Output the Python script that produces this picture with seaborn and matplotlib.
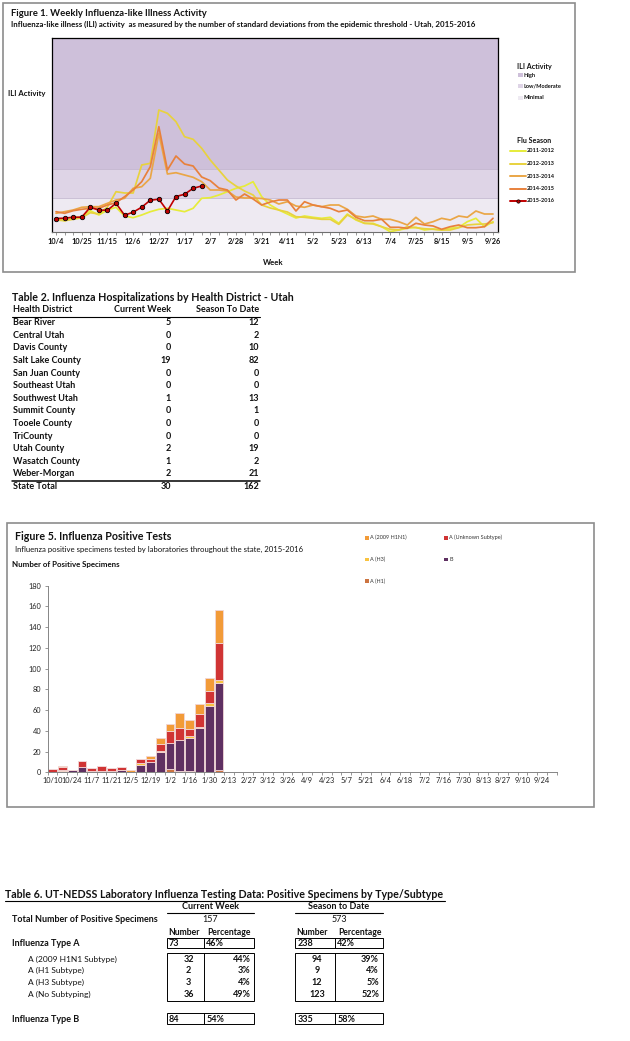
import numpy as np
import pandas as pd
import matplotlib
matplotlib.use('Agg')
import matplotlib.pyplot as plt
from matplotlib.patches import Rectangle
from matplotlib.lines import Line2D
import seaborn as sns


# ==============================
# CONFIGURATION
# ==============================
W, H = 630, 1041
TXT = '#111111'
GRID_GRAY = '#858585'

# ==============================
# DATA - FIGURE 1 (ILI activity, relative units)
# ==============================
ILI_TICK_LABELS = ["10/4", "10/25", "11/15", "12/6", "12/27", "1/17", "2/7", "2/28", "3/21",
                   "4/11", "5/2", "5/23", "6/13", "7/4", "7/25", "8/15", "9/5", "9/26"]

ili_2011_2012 = [1.37, 1.13, 1.37, 1.53, 2.13, 1.70, 2.20, 2.47, 1.60, 1.43, 1.70, 2.03, 2.27,
                 2.37, 2.20, 2.03, 2.37, 3.37, 3.43, 3.70, 4.03, 4.37, 4.60, 5.03, 3.53, 2.70,
                 2.20, 1.80, 1.40, 1.60, 1.47, 1.37, 1.47, 0.87, 1.80, 1.20, 0.87, 0.87, 0.53,
                 0.03, 0.20, 0.37, 0.47, 0.20, 0.30, 0.20, 0.37, 0.47, 1.03, 1.37, 0.53, 1.03]
ili_2012_2013 = [1.20, 1.13, 1.27, 1.43, 1.93, 1.80, 2.50, 4.03, 3.90, 3.90, 6.70, 6.87, 12.20,
                 11.87, 11.03, 9.53, 9.27, 8.37, 7.20, 6.20, 5.20, 4.60, 4.10, 3.70, 2.70, 2.40,
                 2.20, 2.00, 1.53, 1.47, 1.37, 1.27, 1.27, 0.77, 1.70, 1.27, 0.87, 0.80, 0.53,
                 0.27, 0.20, 0.53, 0.43, 0.33, 0.27, 0.20, 0.20, 0.43, 0.70, 0.77, 0.80, 0.93]
ili_2013_2014 = [1.87, 2.03, 2.20, 2.47, 2.53, 2.53, 2.87, 3.20, 3.37, 4.37, 4.53, 5.37, 9.87,
                 5.80, 5.93, 5.70, 5.47, 5.03, 4.20, 4.20, 4.10, 3.50, 3.40, 3.40, 3.35, 3.20,
                 2.80, 3.03, 2.60, 2.47, 2.70, 2.53, 2.70, 2.70, 2.27, 1.60, 1.47, 1.60, 1.27,
                 1.27, 1.03, 0.70, 1.47, 0.80, 1.03, 1.37, 1.20, 1.60, 1.47, 2.10, 1.80, 1.80]
ili_2014_2015 = [2.03, 1.87, 2.13, 2.27, 2.37, 2.37, 2.70, 2.93, 3.53, 4.20, 5.03, 6.53, 10.53,
                 6.20, 7.60, 6.80, 6.60, 5.50, 5.13, 4.40, 4.20, 3.20, 3.80, 3.30, 2.70, 3.00,
                 3.20, 3.20, 2.10, 3.03, 2.70, 2.53, 2.37, 2.03, 2.20, 1.47, 1.13, 1.13, 1.27,
                 0.47, 0.47, 0.37, 0.87, 0.70, 0.60, 0.27, 0.53, 0.70, 0.43, 0.43, 0.53, 1.37]
ili_2015_2016 = [1.35, 1.38, 1.48, 1.48, 2.48, 2.18, 2.18, 2.87, 1.68, 1.98, 2.48, 3.18, 3.28,
                 2.10, 3.55, 3.77, 4.37, 4.60]

SEASONS = ["2011-2012", "2012-2013", "2013-2014", "2014-2015", "2015-2016"]
SEASON_COLORS = ["#E6EC3A", "#E8D23E", "#EAA646", "#E8813C", "#C00000"]

# activity level thresholds (same relative units)
ACTIVITY_LEVELS = ["High", "Low/Moderate", "Minimal"]
ACTIVITY_BOUNDS = [(6.3, 19.4), (3.4, 6.3), (0.0, 3.4)]
ACTIVITY_COLORS = ["#CEC0DA", "#DED4E6", "#EEEAF2"]

# ==============================
# DATA - TABLE 2
# ==============================
districts = ["Bear River", "Central Utah", "Davis County", "Salt Lake County", "San Juan County",
             "Southeast Utah", "Southwest Utah", "Summit County", "Tooele County", "TriCounty",
             "Utah County", "Wasatch County", "Weber-Morgan"]
hosp_current = [5, 0, 0, 19, 0, 0, 1, 0, 0, 0, 2, 1, 2]
hosp_season = [12, 2, 10, 82, 0, 0, 13, 1, 0, 0, 19, 2, 21]
hosp_total = [30, 162]

# ==============================
# DATA - FIGURE 5 (positive tests per week, 2015-2016)
# ==============================
POS_TICK_LABELS = ["10/10", "10/24", "11/7", "11/21", "12/5", "12/19", "1/2", "1/16", "1/30",
                   "2/13", "2/27", "3/12", "3/26", "4/9", "4/23", "5/7", "5/21", "6/4", "6/18",
                   "7/2", "7/16", "7/30", "8/13", "8/27", "9/10", "9/24"]
N_WEEKS = 52

pos_h1 = [0, 0, 0, 0, 0, 0, 0, 0, 0, 0, 0, 0, 3, 1, 1, 0, 0, 2]
pos_b = [0, 1, 2, 5, 1, 1, 1, 2, 0, 7, 10, 20, 25, 30, 32, 43, 64, 84]
pos_h3 = [0, 1, 0, 0, 0, 0, 0, 0, 0, 2, 0, 1, 0, 0, 2, 1, 3, 3]
pos_unknown = [3, 3, 0, 6, 3, 5, 3, 3, 0, 4, 3, 6, 12, 12, 7, 12, 11, 36]
pos_h1n1 = [0, 1, 0, 0, 0, 0, 0, 0, 2, 0, 3, 6, 7, 14, 8, 10, 13, 32]

# top of stack first
SUBTYPES = ["A (2009 H1N1)", "A (Unknown Subtype)", "A (H3)", "B", "A (H1)"]
SUBTYPE_COLORS = ["#F29B38", "#D03434", "#F9C340", "#5F3062", "#CC7440"]

# ==============================
# DATA - TABLE 6
# ==============================
total_positive = ["157", "573"]
type_a = [["73", "46%"], ["238", "42%"]]
subtype_rows = ["A (2009 H1N1 Subtype)", "A (H1 Subtype)", "A (H3 Subtype)", "A (No Subtyping)"]
subtype_current = [["32", "44%"], ["2", "3%"], ["3", "4%"], ["36", "49%"]]
subtype_season = [["94", "39%"], ["9", "4%"], ["12", "5%"], ["123", "52%"]]
type_b = [["84", "54%"], ["335", "58%"]]


def rect(x0, y0, x1, y1):
    # pixel box (top-left origin) -> figure fraction
    return [x0 / W, 1 - y1 / H, (x1 - x0) / W, (y1 - y0) / H]


sns.set_theme(style='white')
plt.rcParams['font.family'] = ['Lato', 'DejaVu Sans']

fig = plt.figure(figsize=(W / 100, H / 100), dpi=100)
fig.patch.set_facecolor('white')

# ==============================
# FIGURE 1: ILI ACTIVITY
# ==============================
ax1 = fig.add_axes(rect(52, 38, 498, 232))
for (lo, hi), col in zip(ACTIVITY_BOUNDS, ACTIVITY_COLORS):
    ax1.axhspan(lo, hi, color=col, lw=0, zorder=0)
for lo, hi in ACTIVITY_BOUNDS[:2]:
    ax1.axhline(lo, color='#BDB0CA', lw=0.5, zorder=0.5)

rows = []
for season, vals in zip(SEASONS, [ili_2011_2012, ili_2012_2013, ili_2013_2014,
                                  ili_2014_2015, ili_2015_2016]):
    for wk, v in enumerate(vals):
        rows.append({'week': wk, 'value': v, 'season': season})
ili_df = pd.DataFrame(rows)

past = ili_df[ili_df.season != SEASONS[-1]]
sns.lineplot(data=past, x='week', y='value', hue='season', hue_order=SEASONS[:-1],
             palette=SEASON_COLORS[:-1], linewidth=1.25, legend=False, ax=ax1, zorder=2)
sns.lineplot(data=ili_df[ili_df.season == SEASONS[-1]], x='week', y='value',
             color=SEASON_COLORS[-1], linewidth=1.2, marker='o', markersize=3.2,
             markerfacecolor=SEASON_COLORS[-1], markeredgecolor='black',
             markeredgewidth=0.6, ax=ax1, zorder=3)

ax1.set_xlim(-0.47, 51.58)
ax1.set_ylim(0, 19.4)
ax1.set_xticks(range(0, 52, 3))
ax1.set_xticklabels(ILI_TICK_LABELS, fontsize=5.3, fontweight='bold', color=TXT)
ax1.set_xticks(range(52), minor=True)
ax1.set_yticks([])
ax1.tick_params(axis='x', which='both', direction='out', length=2.2, width=0.6,
                color=GRID_GRAY, pad=2.2, bottom=True)
ax1.set_xlabel('')
ax1.set_ylabel('')
for side in ['left', 'top', 'right']:
    ax1.spines[side].set_color('black')
    ax1.spines[side].set_linewidth(0.9)
ax1.spines['bottom'].set_color('#6f6f6f')
ax1.spines['bottom'].set_linewidth(0.8)

# ==============================
# FIGURE 5: POSITIVE TESTS
# ==============================
ax5 = fig.add_axes(rect(47.7, 585.7, 556.7, 772.3))
pos_rows = []
for subtype, vals in zip(SUBTYPES, [pos_h1n1, pos_unknown, pos_h3, pos_b, pos_h1]):
    for wk, v in enumerate(vals):
        pos_rows.append({'week': wk, 'count': v, 'subtype': subtype})
pos_df = pd.DataFrame(pos_rows)

sns.histplot(data=pos_df, x='week', weights='count', hue='subtype', hue_order=SUBTYPES,
             palette=SUBTYPE_COLORS, multiple='stack', discrete=True, shrink=0.9,
             edgecolor='#F2D6D6', linewidth=0.6, alpha=1, legend=False, ax=ax5)

ax5.set_xlim(-0.5, N_WEEKS - 0.5)
ax5.set_ylim(0, 180)
ax5.set_yticks(range(0, 181, 20))
ax5.set_yticklabels([str(v) for v in range(0, 181, 20)], fontsize=5.3, color='#222222')
ax5.set_xticks(range(0, N_WEEKS, 2))
ax5.set_xticklabels(POS_TICK_LABELS, fontsize=5.3, color='#222222')
ax5.set_xticks(np.arange(-0.5, N_WEEKS, 1), minor=True)
ax5.tick_params(axis='x', which='major', length=0, pad=3.5)
ax5.tick_params(axis='x', which='minor', direction='out', length=2.2, width=0.6,
                color=GRID_GRAY, bottom=True)
ax5.tick_params(axis='y', direction='out', length=2.2, width=0.6, color=GRID_GRAY,
                pad=2.5, left=True)
ax5.set_xlabel('')
ax5.set_ylabel('')
for side in ['top', 'right']:
    ax5.spines[side].set_visible(False)
for side in ['left', 'bottom']:
    ax5.spines[side].set_color(GRID_GRAY)
    ax5.spines[side].set_linewidth(0.7)

# ==============================
# TEXT, BORDERS AND TABLES
# ==============================
cv = fig.add_axes([0, 0, 1, 1], zorder=10)
cv.set_xlim(0, W)
cv.set_ylim(H, 0)
cv.axis('off')
cv.patch.set_visible(False)


def txt(x, y, s, size=6.5, weight='bold', ha='left', color=TXT):
    cv.text(x, y, s, fontsize=size, fontweight=weight, ha=ha, va='center', color=color)


def hline(x0, x1, y, lw=0.8):
    cv.add_line(Line2D([x0, x1], [y, y], color='black', lw=lw))


# figure 1 frame and text
cv.add_patch(Rectangle((3, 3), 572, 269, fill=False, ec='#8c8c8c', lw=1.2))
txt(11, 13.5, "Figure 1. Weekly Influenza-like Illness Activity", size=6.8)
txt(11, 24, "Influenza-like illness (ILI) activity  as measured by the number of standard "
            "deviations from the epidemic threshold - Utah, 2015-2016", size=5.7)
txt(8, 93.5, "ILI Activity", size=5.6)
txt(263, 262.5, "Week", size=5.6)

txt(517, 66.5, "ILI Activity", size=5.1)
for i, (lvl, col) in enumerate(zip(ACTIVITY_LEVELS, ACTIVITY_COLORS)):
    yy = 75 + 11.3 * i
    cv.add_patch(Rectangle((518.3, yy - 2), 4.4, 4, fc=col, ec='none'))
    txt(523.5, yy, lvl, size=4.1)

txt(517, 140.5, "Flu Season", size=5.1)
for i, (season, col) in enumerate(zip(SEASONS, SEASON_COLORS)):
    yy = 151 + 12.5 * i
    cv.add_line(Line2D([510, 526], [yy, yy], color=col, lw=1.4))
    if i == len(SEASONS) - 1:
        cv.plot([518], [yy], marker='o', ms=2.4, mfc=col, mec='black', mew=0.5)
    txt(526.8, yy, season, size=4.0)

# table 2
txt(12, 297.5, "Table 2. Influenza Hospitalizations by Health District - Utah", size=7.7)
txt(13, 310, "Health District")
txt(171, 310, "Current Week", ha='right')
txt(259, 310, "Season To Date", ha='right')
hline(12, 260, 316.5)
for i, (d, c, s) in enumerate(zip(districts, hosp_current, hosp_season)):
    yy = 322.7 + 12.6 * i
    txt(13, yy, d)
    txt(171, yy, str(c), ha='right')
    txt(259, yy, str(s), ha='right')
hline(12, 260, 480.5, lw=1.1)
txt(13, 486.7, "State Total")
txt(171, 486.7, str(hosp_total[0]), ha='right')
txt(259, 486.7, str(hosp_total[1]), ha='right')

# figure 5 frame, text and legend
cv.add_patch(Rectangle((6.7, 523.3), 587.3, 283.4, fill=False, ec='#8c8c8c', lw=1.2))
txt(15, 537, "Figure 5. Influenza Positive Tests", size=7.7)
txt(15, 549.5, "Influenza positive specimens tested by laboratories throughout the state, 2015-2016",
    size=5.6, weight='normal')
txt(12, 564, "Number of Positive Specimens", size=5.7)

legend_pos = {"A (2009 H1N1)": (365, 537.7), "A (Unknown Subtype)": (444, 537.7),
              "A (H3)": (365, 559.3), "B": (444, 559.3), "A (H1)": (365, 581)}
for subtype, col in zip(SUBTYPES, SUBTYPE_COLORS):
    lx, ly = legend_pos[subtype]
    cv.add_patch(Rectangle((lx, ly - 1.8), 3.6, 3.6, fc=col, ec='none'))
    txt(lx + 5, ly, subtype, size=4.0, weight='normal', color='#333333')

# table 6
txt(5, 895, "Table 6. UT-NEDSS Laboratory Influenza Testing Data: Positive Specimens by Type/Subtype",
    size=7.7)
hline(5, 445, 901)
blocks = [(166.7, 204, 254.3), (295, 335, 383)]
for (bx0, bdiv, bx1), head in zip(blocks, ["Current Week", "Season to Date"]):
    txt((bx0 + bx1) / 2, 906.7, head, ha='center')
    hline(bx0, bx1, 913.3)
for (bx0, bdiv, bx1), tot in zip(blocks, total_positive):
    txt((bx0 + bx1) / 2, 919.5, tot, ha='center', weight='normal')
    txt(bx0 + 1.5, 932.3, "Number", size=6.2)
    txt(bdiv + 3.5, 932.3, "Percentage", size=6.2)

txt(12, 919.5, "Total Number of Positive Specimens")
txt(12, 943.3, "Influenza Type A")
for i, lab in enumerate(subtype_rows):
    txt(27.7, 959 + 11.7 * i, lab, size=6.0, weight='normal')
txt(12, 1019, "Influenza Type B")

for bi, (bx0, bdiv, bx1) in enumerate(blocks):
    for y0, y1 in [(938.3, 948.3), (953.3, 1000.5), (1013.3, 1024.3)]:
        cv.add_patch(Rectangle((bx0, y0), bx1 - bx0, y1 - y0, fill=False, ec='black', lw=0.7))
        cv.add_line(Line2D([bdiv, bdiv], [y0, y1], color='black', lw=0.7))
    num, pct = type_a[bi]
    txt(bx0 + 2.3, 943.3, num)
    txt(bdiv + 2.3, 943.3, pct)
    num, pct = type_b[bi]
    txt(bx0 + 2.3, 1019, num)
    txt(bdiv + 2.3, 1019, pct)
    sub = subtype_current if bi == 0 else subtype_season
    for i, (num, pct) in enumerate(sub):
        yy = 959 + 11.7 * i
        txt(bx0 + 22, yy, num, ha='center')
        txt(bx1 - 4, yy, pct, ha='right')

fig.savefig('out.png', dpi=100, facecolor='white')
